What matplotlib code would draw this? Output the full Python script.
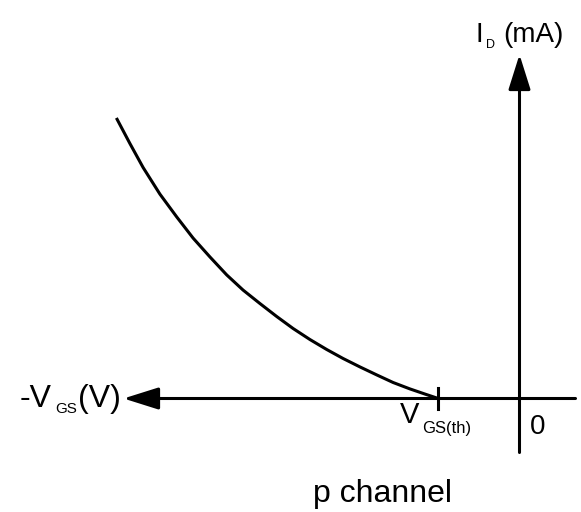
import matplotlib
matplotlib.use("Agg")
import matplotlib.pyplot as plt
from matplotlib.patches import FancyArrowPatch
from matplotlib.transforms import IdentityTransform

plt.rcParams['font.family'] = ['Liberation Sans', 'DejaVu Sans']

# transfer curve of a p channel mosfet (V, mA)
vgs = [-10.06, -9.74, -9.41, -8.99, -8.57, -8.16, -7.74, -7.32, -6.91, -6.49,
       -6.07, -5.66, -5.24, -4.82, -4.41, -3.99, -3.57, -3.16, -2.74, -2.36, -2.03]
i_d = [6.98, 6.375, 5.775, 5.11, 4.54, 4.01, 3.54, 3.09, 2.71, 2.375,
       2.05, 1.75, 1.475, 1.225, 1.0, 0.79, 0.59, 0.40, 0.24, 0.11, 0.0]
vth = -2.03

# extent of the drawn axis arrows
x_axis = (1.4, -9.9)
y_axis = (-1.35, 8.6)
tick_half = 0.26

W, H = 581, 512
fig = plt.figure(figsize=(W / 100, H / 100), dpi=100)
ax = fig.add_axes([0, 0, 1, 1])
ax.set_xlim(-519.5 / 40, 61.5 / 40)
ax.set_ylim(-(H - 398.5) / 40, 398.5 / 40)
ax.axis('off')

lw = 2.2
for p0, p1 in [((x_axis[0], 0), (x_axis[1], 0)), ((0, y_axis[0]), (0, y_axis[1]))]:
    arr = FancyArrowPatch(p0, p1, arrowstyle='-|>,head_length=1.08,head_width=0.34',
                          mutation_scale=20, lw=lw, color='black',
                          shrinkA=0, shrinkB=0)
    ax.add_patch(arr)

ax.plot([vth, vth], [-tick_half, tick_half], color='black', lw=lw)
ax.plot(vgs, i_d, color='black', lw=lw, solid_joinstyle='round')

px = IdentityTransform()


def txt(x, y, s, size):
    fig.text(x, H - y, s, fontsize=size, transform=px, ha='left', va='baseline')


# -V_GS(V)
txt(20, 407, '-V', 23)
txt(55, 413, 'GS', 11)
txt(78, 407, '(V)', 23)

# V_GS(th)
txt(400, 423, 'V', 21)
txt(422, 433, 'GS(th)', 12)

# origin
txt(530, 434, '0', 20)

# I_D (mA)
txt(476, 42, 'I', 20)
txt(486, 48, 'D', 9)
txt(503, 42, '(mA)', 20)

txt(313, 502, 'p channel', 23)

fig.savefig('out.png', dpi=100)
